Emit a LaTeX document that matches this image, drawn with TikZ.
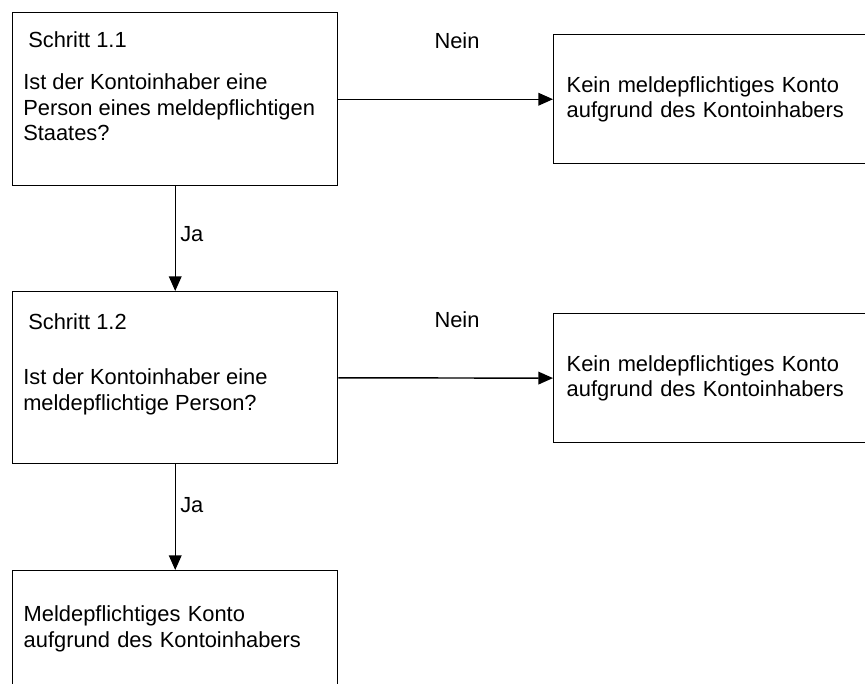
\documentclass[tikz,border=0pt]{standalone}
\usepackage{fontspec}
\setmainfont{Liberation Sans}
\usetikzlibrary{arrows.meta}

\begin{document}
\begin{tikzpicture}[x=0.75pt,y=-0.75pt,
	font=\fontsize{16.4}{19.1}\selectfont,
	box/.style={draw,line width=1.1pt,rectangle,anchor=north west,
		minimum width=243.75pt,inner sep=0pt},
	kbox/.style={draw,line width=1.1pt,rectangle,anchor=north west,align=left,
		text width=228pt,inner xsep=9.75pt,minimum height=96.75pt},
	txt/.style={align=left,inner sep=0pt,anchor=west}]
				\useasboundingbox (0,0) rectangle (865,683);
				\clip (0,0) rectangle (865,683);
				% Schritt 1.1
				\node[box,minimum height=129.75pt] (s11) at (12,12) {};
				\node[txt] (s11a) at (28,40) {Schritt 1.1};
				\node[txt] (s11b) at (23,107.5) {Ist der Kontoinhaber eine\\Person eines meldepflichtigen\\Staates?};
				% Schritt 1.2
				\node[box,minimum height=129pt] (s12) at (12,291) {};
				\node[txt] (s12a) at (28,322) {Schritt 1.2};
				\node[txt] (s12b) at (23,392) {Ist der Kontoinhaber eine\\meldepflichtige Person?};
				% Ergebnisse
				\node[box,align=left,text width=227.25pt,inner xsep=8.25pt,minimum height=87pt] (meld) at (12,570)
					{Meldepflichtiges Konto\\aufgrund des Kontoinhabers};
				\node[kbox] (kein1) at (553,34) {Kein meldepflichtiges Konto\\aufgrund des Kontoinhabers};
				\node[kbox] (kein2) at (553,313) {Kein meldepflichtiges Konto\\aufgrund des Kontoinhabers};
				\path[-{Triangle[length=11pt,width=9.5pt]},line width=1.1pt]
				(s11) edge (kein1)
				(s11) edge (s12)
				(s12) edge (kein2)
				(s12) edge (meld);
				\node (nein1) at (457,41) {Nein};
				\node (nein2) at (457,320) {Nein};
				\node[txt] (ja1) at (180,234) {Ja};
				\node[txt] (ja2) at (180,505) {Ja};
			\end{tikzpicture}
\end{document}
